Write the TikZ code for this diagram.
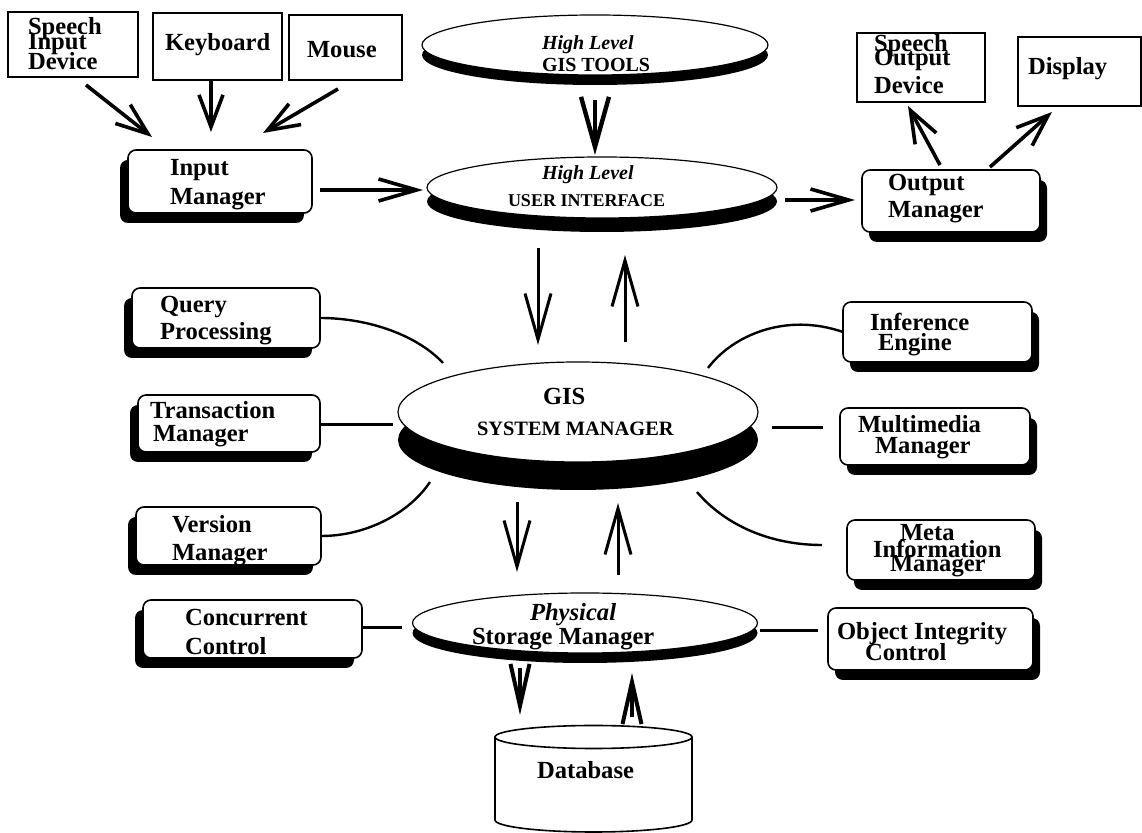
\documentclass[tikz,border=0pt]{standalone}
\usepackage{fontspec}
\setmainfont{Liberation Serif}
\usetikzlibrary{arrows.meta,shadows,shapes.geometric}
\begin{document}
\begin{tikzpicture}[x=0.5pt,y=-0.5pt,
  every node/.style={inner sep=0pt,outer sep=0pt},
  lbl/.style={anchor=west,align=left,font={\fontsize{12.3}{#1}\selectfont\bfseries\lineskiplimit=-100pt}},
  lbl/.default=14pt,
  device/.style={draw,line width=0.8pt,rectangle},
  mgr/.style={draw,line width=0.8pt,rectangle,rounded corners=4pt,fill=white},
  shL/.style={drop shadow={shadow xshift=-4pt,shadow yshift=-5pt,fill=black,opacity=1}},
  shR/.style={drop shadow={shadow xshift=3.5pt,shadow yshift=-5pt,fill=black,opacity=1}},
  disc/.style={draw,ellipse,line width=0.6pt,fill=white,
    drop shadow={shadow xshift=0pt,shadow yshift=-#1,fill=black,opacity=1}},
  arrA/.style={line width=1.8pt,-{Straight Barb[length=16pt,width=12pt]}},
  arrB/.style={line width=1.8pt,-{Straight Barb[length=19pt,width=11pt]}},
  arrC/.style={line width=1.5pt,-{Straight Barb[length=23pt,width=13pt]}},
  arrD/.style={line width=2.2pt,-{Straight Barb[length=25pt,width=14pt]}},
  arrE/.style={line width=2pt,-{Straight Barb[length=21pt,width=9.5pt]}},
  link/.style={line width=1.2pt},
  bar/.style={line width=1.5pt}
]
\useasboundingbox (0,0) rectangle (1142,833);

% ---------- input devices ----------
\node[device,minimum width=65pt,minimum height=32.5pt] (spin) at (73,44.5) {};
\node[lbl] (spinT) at (28,44) {Speech\\[-6.5pt]Input\\[-4pt]Device};
\node[device,minimum width=64.5pt,minimum height=33.5pt] (kb) at (217.5,46.5) {};
\node[lbl] (kbT) at (165,45) {Keyboard};
\node[device,minimum width=56.5pt,minimum height=32.5pt] (mouse) at (345.5,47.5) {};
\node[lbl] (mouseT) at (307,50) {Mouse};

% ---------- output devices ----------
\node[device,minimum width=64pt,minimum height=34.5pt] (spout) at (921,67.5) {};
\node[lbl] (spoutT) at (874,64) {Speech\\[-7pt]Output\\Device};
\node[device,minimum width=61.5pt,minimum height=34.5pt] (disp) at (1079.5,71.5) {};
\node[lbl] (dispT) at (1028,69) {Display};

% ---------- input / output managers ----------
\node[mgr,shL,minimum width=92pt,minimum height=31.5pt] (inmgr) at (220,181.5) {};
\node[lbl=14.5pt] (inT) at (170,185) {Input\\Manager};
\node[mgr,shR,minimum width=89pt,minimum height=31pt] (outmgr) at (951,201) {};
\node[lbl=13.5pt] (outT) at (888,199) {Output\\Manager};

% ---------- layered discs ----------
\node[disc=5pt,minimum width=173pt,minimum height=30pt] (tools) at (595,45) {};
\node[lbl,font={\fontsize{10}{11}\selectfont\bfseries\lineskiplimit=-100pt}] (toolsT) at (542,54)
  {\textit{High Level}\\GIS TOOLS};
\node[disc=7pt,minimum width=175pt,minimum height=30.5pt] (ui) at (602,187.5) {};
\node[lbl=13.5pt] (uiT) at (508,186)
  {\hspace*{17pt}{\fontsize{10}{10}\selectfont\itshape High Level}\\{\fontsize{9}{9}\selectfont USER INTERFACE}};
\node[disc=14pt,minimum width=180pt,minimum height=50pt] (sm) at (578,412) {};
\node[lbl=15.5pt] (smT) at (477,412)
  {\hspace*{33pt}GIS\\{\fontsize{10.2}{10}\selectfont SYSTEM MANAGER}};
\node[disc=5pt,minimum width=172.5pt,minimum height=30pt] (sto) at (585,623) {};
\node[lbl=12pt] (stoT) at (472,627) {\hspace*{29pt}\textit{Physical}\\Storage Manager};

% ---------- database ----------
\node[minimum width=98.5pt,minimum height=53.5pt] (db) at (593.5,778.5) {};
\draw[line width=0.8pt] (593.5,737) ellipse [x radius=49.25pt,y radius=5.75pt];
\draw[line width=0.8pt] (495,737) -- (495,820)
  arc[start angle=180,end angle=360,x radius=49.25pt,y radius=6pt] -- (692,737);
\node[lbl] (dbT) at (537,770) {Database};

% ---------- left service modules ----------
\node[mgr,shL,minimum width=94pt,minimum height=30pt] (query) at (226,318) {};
\node[lbl=13.5pt] (qT) at (160,321) {Query\\Processing};
\node[mgr,shL,minimum width=91pt,minimum height=28.5pt] (trans) at (229,423.5) {};
\node[lbl=11.5pt] (trT) at (150,424) {Transaction\\\hspace*{1.5pt}Manager};
\node[mgr,shL,minimum width=92.5pt,minimum height=29pt] (vers) at (228.5,536) {};
\node[lbl=14pt] (verT) at (172,541) {Version\\Manager};
\node[mgr,shL,minimum width=109.5pt,minimum height=29pt] (conc) at (252.5,629) {};
\node[lbl=14.5pt] (ccT) at (185,632) {Concurrent\\Control};

% ---------- right service modules ----------
\node[mgr,shR,minimum width=94.5pt,minimum height=30pt] (infer) at (937.5,332) {};
\node[lbl=10pt] (infT) at (870,335) {Inference\\\hspace*{4pt}Engine};
\node[mgr,shR,minimum width=95pt,minimum height=28.5pt] (mm) at (935,436.5) {};
\node[lbl=10.5pt] (mmT) at (858,437) {Multimedia\\\hspace*{8.5pt}Manager};
\node[mgr,shR,minimum width=94pt,minimum height=30pt] (meta) at (941,550) {};
\node[lbl=8.5pt] (metaT) at (873,551) {\hspace*{13.5pt}Meta\\Information\\[-1.5pt]\hspace*{8.5pt}Manager};
\node[mgr,shR,minimum width=102.5pt,minimum height=31pt] (obj) at (930.5,639) {};
\node[lbl=10.5pt] (objT) at (837,642) {Object Integrity\\\hspace*{14pt}Control};

% ---------- free ends of the links ----------
\coordinate (qE) at (443,363);
\coordinate (tE) at (393,425);
\coordinate (vE) at (430,482);
\coordinate (cE) at (402,628);
\coordinate (iE) at (708,368);
\coordinate (mS) at (772,428);
\coordinate (mtS) at (697,492);
\coordinate (oS) at (760,631);

% ---------- links to the system manager ----------
\draw[link] (query.east) .. controls (370,318) and (418,336) .. (qE);
\draw[bar] (tE -| trans.east) -- (tE);
\draw[link] (vers.east) .. controls (368,536) and (410,512) .. (vE);
\draw[bar] (cE -| conc.east) -- (cE);
\draw[link] (infer.west) .. controls (785,312) and (732,336) .. (iE);
\draw[bar,shorten >=8.5pt] (mS) -- (mS -| mm.west);
\draw[link] (mtS) .. controls (725,525) and (770,545) .. ([shift={(-25,-5)}]meta.west);
\draw[bar,shorten >=5pt] (oS) -- (oS -| obj.west);

% ---------- data flow arrows ----------
\draw[arrA] ([shift={(13,8)}]spin.south) -- ([shift={(-68,-13)}]inmgr.north);
\draw[arrA] ([shift={(-6.5,0)}]kb.south) -- ([shift={(-9,-18)}]inmgr.north);
\draw[arrA] ([shift={(-7.5,9)}]mouse.south) -- ([shift={(43,-17)}]inmgr.north);
\draw[arrB] ([shift={(8,8.5)}]inmgr.east) -- ([shift={(-4,2.5)}]ui.west);
\draw[arrD] ([shift={(0,25)}]tools.south) -- ([shift={(-7,-2)}]ui.north);
\draw[arrB] ([shift={(8,12.5)}]ui.east) -- ([shift={(-7,-1)}]outmgr.west);
\draw[arrA] ([shift={(-11,-5)}]outmgr.north) -- ([shift={(-13,4)}]spout.south);
\draw[arrA] ([shift={(39,-3)}]outmgr.north) -- ([shift={(-27.5,6)}]disp.south);
\draw[arrC] ([shift={(-64,30)}]ui.south) -- ([shift={(-40,-17)}]sm.north);
\draw[arrC] ([shift={(47,-20)}]sm.north) -- ([shift={(23,37)}]ui.south);
\draw[arrC] ([shift={(-61,40)}]sm.south) -- ([shift={(-68,-21)}]sto.north);
\draw[arrC] ([shift={(33,-18)}]sto.north) -- ([shift={(40,41)}]sm.south);
\draw[arrE] ([shift={(-65,15)}]sto.south) -- ([shift={(-73.5,-10)}]db.north);
\draw[arrE] ([shift={(38.5,-8)}]db.north) -- ([shift={(47,20)}]sto.south);
\end{tikzpicture}
\end{document}
